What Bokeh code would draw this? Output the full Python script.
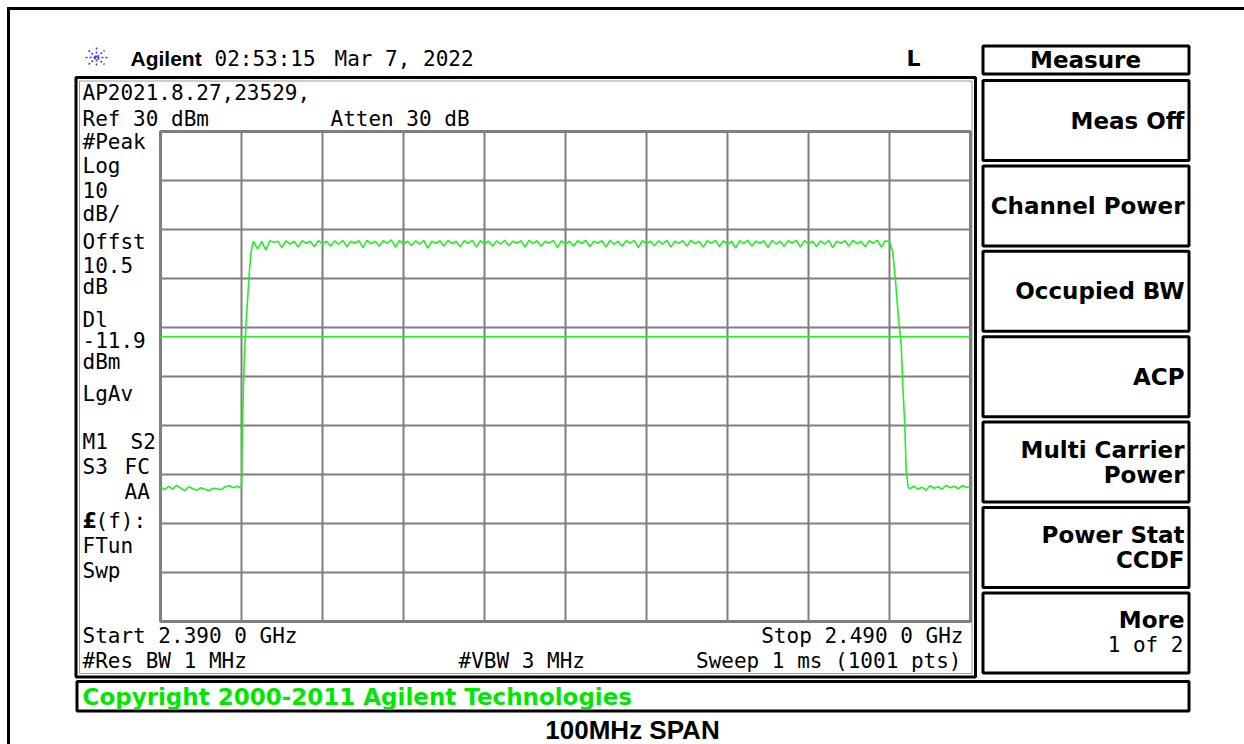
import numpy as np
from bokeh.plotting import figure
from bokeh.models import Range1d, Label
from bokeh.embed import file_html
from bokeh.resources import INLINE

# ---------------- data ----------------
start_mhz = 2390.0
stop_mhz = 2490.0
ref_level = 30.0
db_per_div = 10.0
display_line_dbm = -11.9

freq_grid = [2390, 2400, 2410, 2420, 2430, 2440, 2450, 2460, 2470, 2480, 2490]
level_grid = [-70, -60, -50, -40, -30, -20, -10, 0, 10, 20, 30]

# left noise floor, 2390.0 ... 2399.5 MHz (0.5 MHz steps)
left_floor_freq = list(np.arange(2390.0, 2399.75, 0.5))
left_floor_dbm = [-42.6, -43.1, -42.4, -43.0, -42.2, -42.8, -43.3, -42.5, -42.9, -43.2,
                  -42.7, -43.0, -43.3, -42.8, -42.9, -43.1, -42.5, -42.3, -42.7, -42.4]

# rising edge
rise_freq = [2400.0, 2400.05, 2400.1, 2400.2, 2400.35, 2400.55, 2400.8, 2401.0, 2401.2, 2401.4]
rise_dbm = [-42.8, -38.0, -31.0, -25.0, -16.0, -9.5, -3.0, 2.0, 5.5, 7.3]

# in-band, 2401.5 ... 2480.0 MHz (0.5 MHz steps)
inband_freq = list(np.arange(2401.5, 2480.25, 0.5))
inband_dbm = [
    7.5, 6.0, 7.6, 5.8, 7.7, 7.4, 7.6, 6.3, 7.7, 7.0,
    7.6, 6.4, 7.7, 7.2, 7.6, 6.5, 7.7, 7.1, 7.6, 6.6,
    7.7, 7.0, 7.8, 6.5, 7.6, 7.2, 7.7, 6.3, 7.8, 7.1,
    7.6, 6.6, 7.7, 7.2, 7.9, 6.4, 7.7, 7.1, 7.6, 6.7,
    7.7, 7.0, 7.8, 6.2, 7.6, 7.2, 7.7, 6.6, 7.8, 7.1,
    7.6, 6.5, 7.7, 7.2, 7.8, 6.4, 7.7, 7.1, 7.6, 6.6,
    7.7, 7.0, 7.8, 6.7, 7.6, 7.2, 7.7, 6.4, 7.8, 7.1,
    7.7, 6.6, 7.6, 7.2, 7.8, 6.3, 7.7, 7.0, 7.6, 6.6,
    7.7, 7.1, 7.8, 6.5, 7.6, 7.2, 7.7, 6.4, 7.8, 7.0,
    7.6, 6.6, 7.7, 7.2, 7.8, 6.3, 7.7, 7.1, 7.6, 6.7,
    7.7, 7.0, 7.8, 6.4, 7.6, 7.2, 7.7, 6.6, 7.8, 7.1,
    7.6, 6.4, 7.7, 7.2, 7.8, 6.5, 7.7, 7.0, 7.6, 6.2,
    7.7, 7.1, 7.8, 6.6, 7.6, 7.2, 7.7, 6.3, 7.8, 7.0,
    7.6, 6.6, 7.7, 7.2, 7.8, 6.4, 7.7, 7.1, 7.6, 6.5,
    7.7, 7.0, 7.8, 6.3, 7.6, 7.2, 7.7, 6.6, 7.8, 7.1,
    7.6, 6.5, 7.7, 7.2, 7.8, 6.4, 7.7, 7.5,
]

# falling edge
fall_freq = [2480.4, 2480.75, 2481.1, 2481.45, 2481.65, 2481.9, 2482.05, 2482.3]
fall_dbm = [5.5, -0.6, -8.0, -13.7, -22.0, -30.4, -38.8, -42.6]

# right noise floor, 2482.5 ... 2490.0 MHz
right_floor_freq = list(np.arange(2482.5, 2490.25, 0.5))
right_floor_dbm = [-42.9, -42.4, -43.0, -42.6, -43.2, -42.3, -42.8, -42.5,
                   -43.0, -42.2, -42.7, -42.4, -42.9, -42.3, -42.6, -42.5]

left_panel = ["#Peak", "Log", "10", "dB/", "Offst", "10.5", "dB", "Dl", "-11.9", "dBm", "LgAv"]
softkeys = [["Meas Off"], ["Channel Power"], ["Occupied BW"], ["ACP"],
            ["Multi Carrier", "Power"], ["Power Stat", "CCDF"], ["More", "1 of 2"]]

# ---------------- layout (picture pixels) ----------------
W, H = 1244, 744
GX0, GX1, GY0, GY1 = 160, 970, 131, 621
px_mhz = (GX1 - GX0) / (stop_mhz - start_mhz)
px_db = (GY1 - GY0) / (db_per_div * 10)

MONO = "DejaVu Sans Mono"
BOLD = "DejaVu Sans"
GREEN = "#22f022"

p = figure(width=W, height=H, x_range=Range1d(0, W), y_range=Range1d(H, 0),
           output_backend="svg", toolbar_location=None, min_border=0,
           x_axis_location=None, y_axis_location=None)
p.grid.visible = False
p.outline_line_color = None
p.background_fill_color = "white"

p.extra_x_ranges = {"freq": Range1d(start_mhz - GX0 / px_mhz, start_mhz + (W - GX0) / px_mhz)}
p.extra_y_ranges = {"dbm": Range1d(ref_level - (H - GY0) / px_db, ref_level + GY0 / px_db)}


def lab(x, y, t, font=MONO, size="21px", style="normal", color="black", align="left"):
    p.add_layout(Label(x=x, y=y, text=t, text_font=font, text_font_size=size,
                       text_font_style=style, text_color=color, text_align=align,
                       text_baseline="middle"))


def box(l, r, t, b, w=3, color="black"):
    p.quad(left=[l], right=[r], top=[t], bottom=[b], fill_color=None, line_color=color, line_width=w)


# outer border (top and left)
p.segment(x0=[8, 6.5], y0=[6.5, 8], x1=[8, W], y1=[H, 8], line_color="black", line_width=3)

# display box
box(75.5, 975, 77, 676.5)
box(79, 971.5, 80.5, 673, w=1, color="#9a9a9a")

# graticule
p.segment(x0=freq_grid, y0=[level_grid[0]] * len(freq_grid), x1=freq_grid, y1=[level_grid[-1]] * len(freq_grid),
          x_range_name="freq", y_range_name="dbm", line_color="#7f7f7f", line_width=2)
p.segment(x0=[freq_grid[0]] * len(level_grid), y0=level_grid, x1=[freq_grid[-1]] * len(level_grid), y1=level_grid,
          x_range_name="freq", y_range_name="dbm", line_color="#7f7f7f", line_width=2)
p.quad(left=[freq_grid[0]], right=[freq_grid[-1]], top=[level_grid[-1]], bottom=[level_grid[0]],
       x_range_name="freq", y_range_name="dbm", fill_color=None, line_color="#7f7f7f", line_width=3)

# display line
p.line([start_mhz, stop_mhz], [display_line_dbm, display_line_dbm], x_range_name="freq", y_range_name="dbm",
       line_color=GREEN, line_width=1.6)

# trace
tf = left_floor_freq + rise_freq + inband_freq + fall_freq + right_floor_freq
tl = left_floor_dbm + rise_dbm + inband_dbm + fall_dbm + right_floor_dbm
p.line(tf, tl, x_range_name="freq", y_range_name="dbm", line_color=GREEN, line_width=1.6)

# header
cx, cy = 96, 57
for (dx, dy) in [(11, 0), (0, 10), (8, 7), (8, -7)]:
    p.segment(x0=[cx - dx], y0=[cy - dy], x1=[cx + dx], y1=[cy + dy], line_color="#3a3af0",
              line_width=1.6, line_dash="2 2")
lab(130, 58, "Agilent", font="Liberation Sans", size="21px", style="bold")
lab(214, 58, "02:53:15", size="21px")
lab(334, 58, "Mar 7, 2022", size="21px")
lab(906, 58, "L", font=BOLD, size="22px", style="bold")

# top of display
lab(82, 92, "AP2021.8.27,23529,")
lab(82, 118, "Ref 30 dBm")
lab(330, 118, "Atten 30 dB")

# left annotation column
left_y = [141, 165, 189, 213, 241, 264, 286, 319, 339, 361, 393]
for t, y in zip(left_panel, left_y):
    lab(82, y, t)
lab(82, 441, "M1")
lab(130, 441, "S2")
lab(82, 466, "S3")
lab(124, 466, "FC")
lab(124, 491, "AA")
lab(82, 520, "£", font=BOLD, style="bold")
lab(95, 520, "(f):")
lab(82, 545, "FTun")
lab(82, 570, "Swp")

# bottom of display
lab(82, 635, "Start 2.390 0 GHz")
lab(963, 635, "Stop 2.490 0 GHz", align="right")
lab(82, 660, "#Res BW 1 MHz")
lab(458, 660, "#VBW 3 MHz")
lab(961, 660, "Sweep 1 ms (1001 pts)", align="right")

# measure menu
KEY = "23px"
box(982.5, 1188.5, 45.5, 73.5)
lab(1085, 59, "Measure", font=BOLD, size=KEY, style="bold", align="center")
for i, key in enumerate(softkeys):
    top = 80 + 85.4 * i
    box(982.5, 1188.5, top, top + 80)
    c = top + 40
    if len(key) == 1:
        lab(1184, c, key[0], font=BOLD, size=KEY, style="bold", align="right")
    else:
        lab(1184, c - 12.5, key[0], font=BOLD, size=KEY, style="bold", align="right")
        if key[1] == "1 of 2":
            lab(1183, c + 12.5, key[1], align="right")
        else:
            lab(1184, c + 12.5, key[1], font=BOLD, size=KEY, style="bold", align="right")

# copyright bar
box(76.5, 1188.5, 681, 710.5)
lab(82, 696, "Copyright 2000-2011 Agilent Technologies", font=BOLD, size="23px", style="bold", color="#00e600")

# caption
lab(632, 729, "100MHz SPAN", font="Liberation Sans", size="26px", style="bold", align="center")

open("out.html", "w").write(file_html(p, INLINE))
